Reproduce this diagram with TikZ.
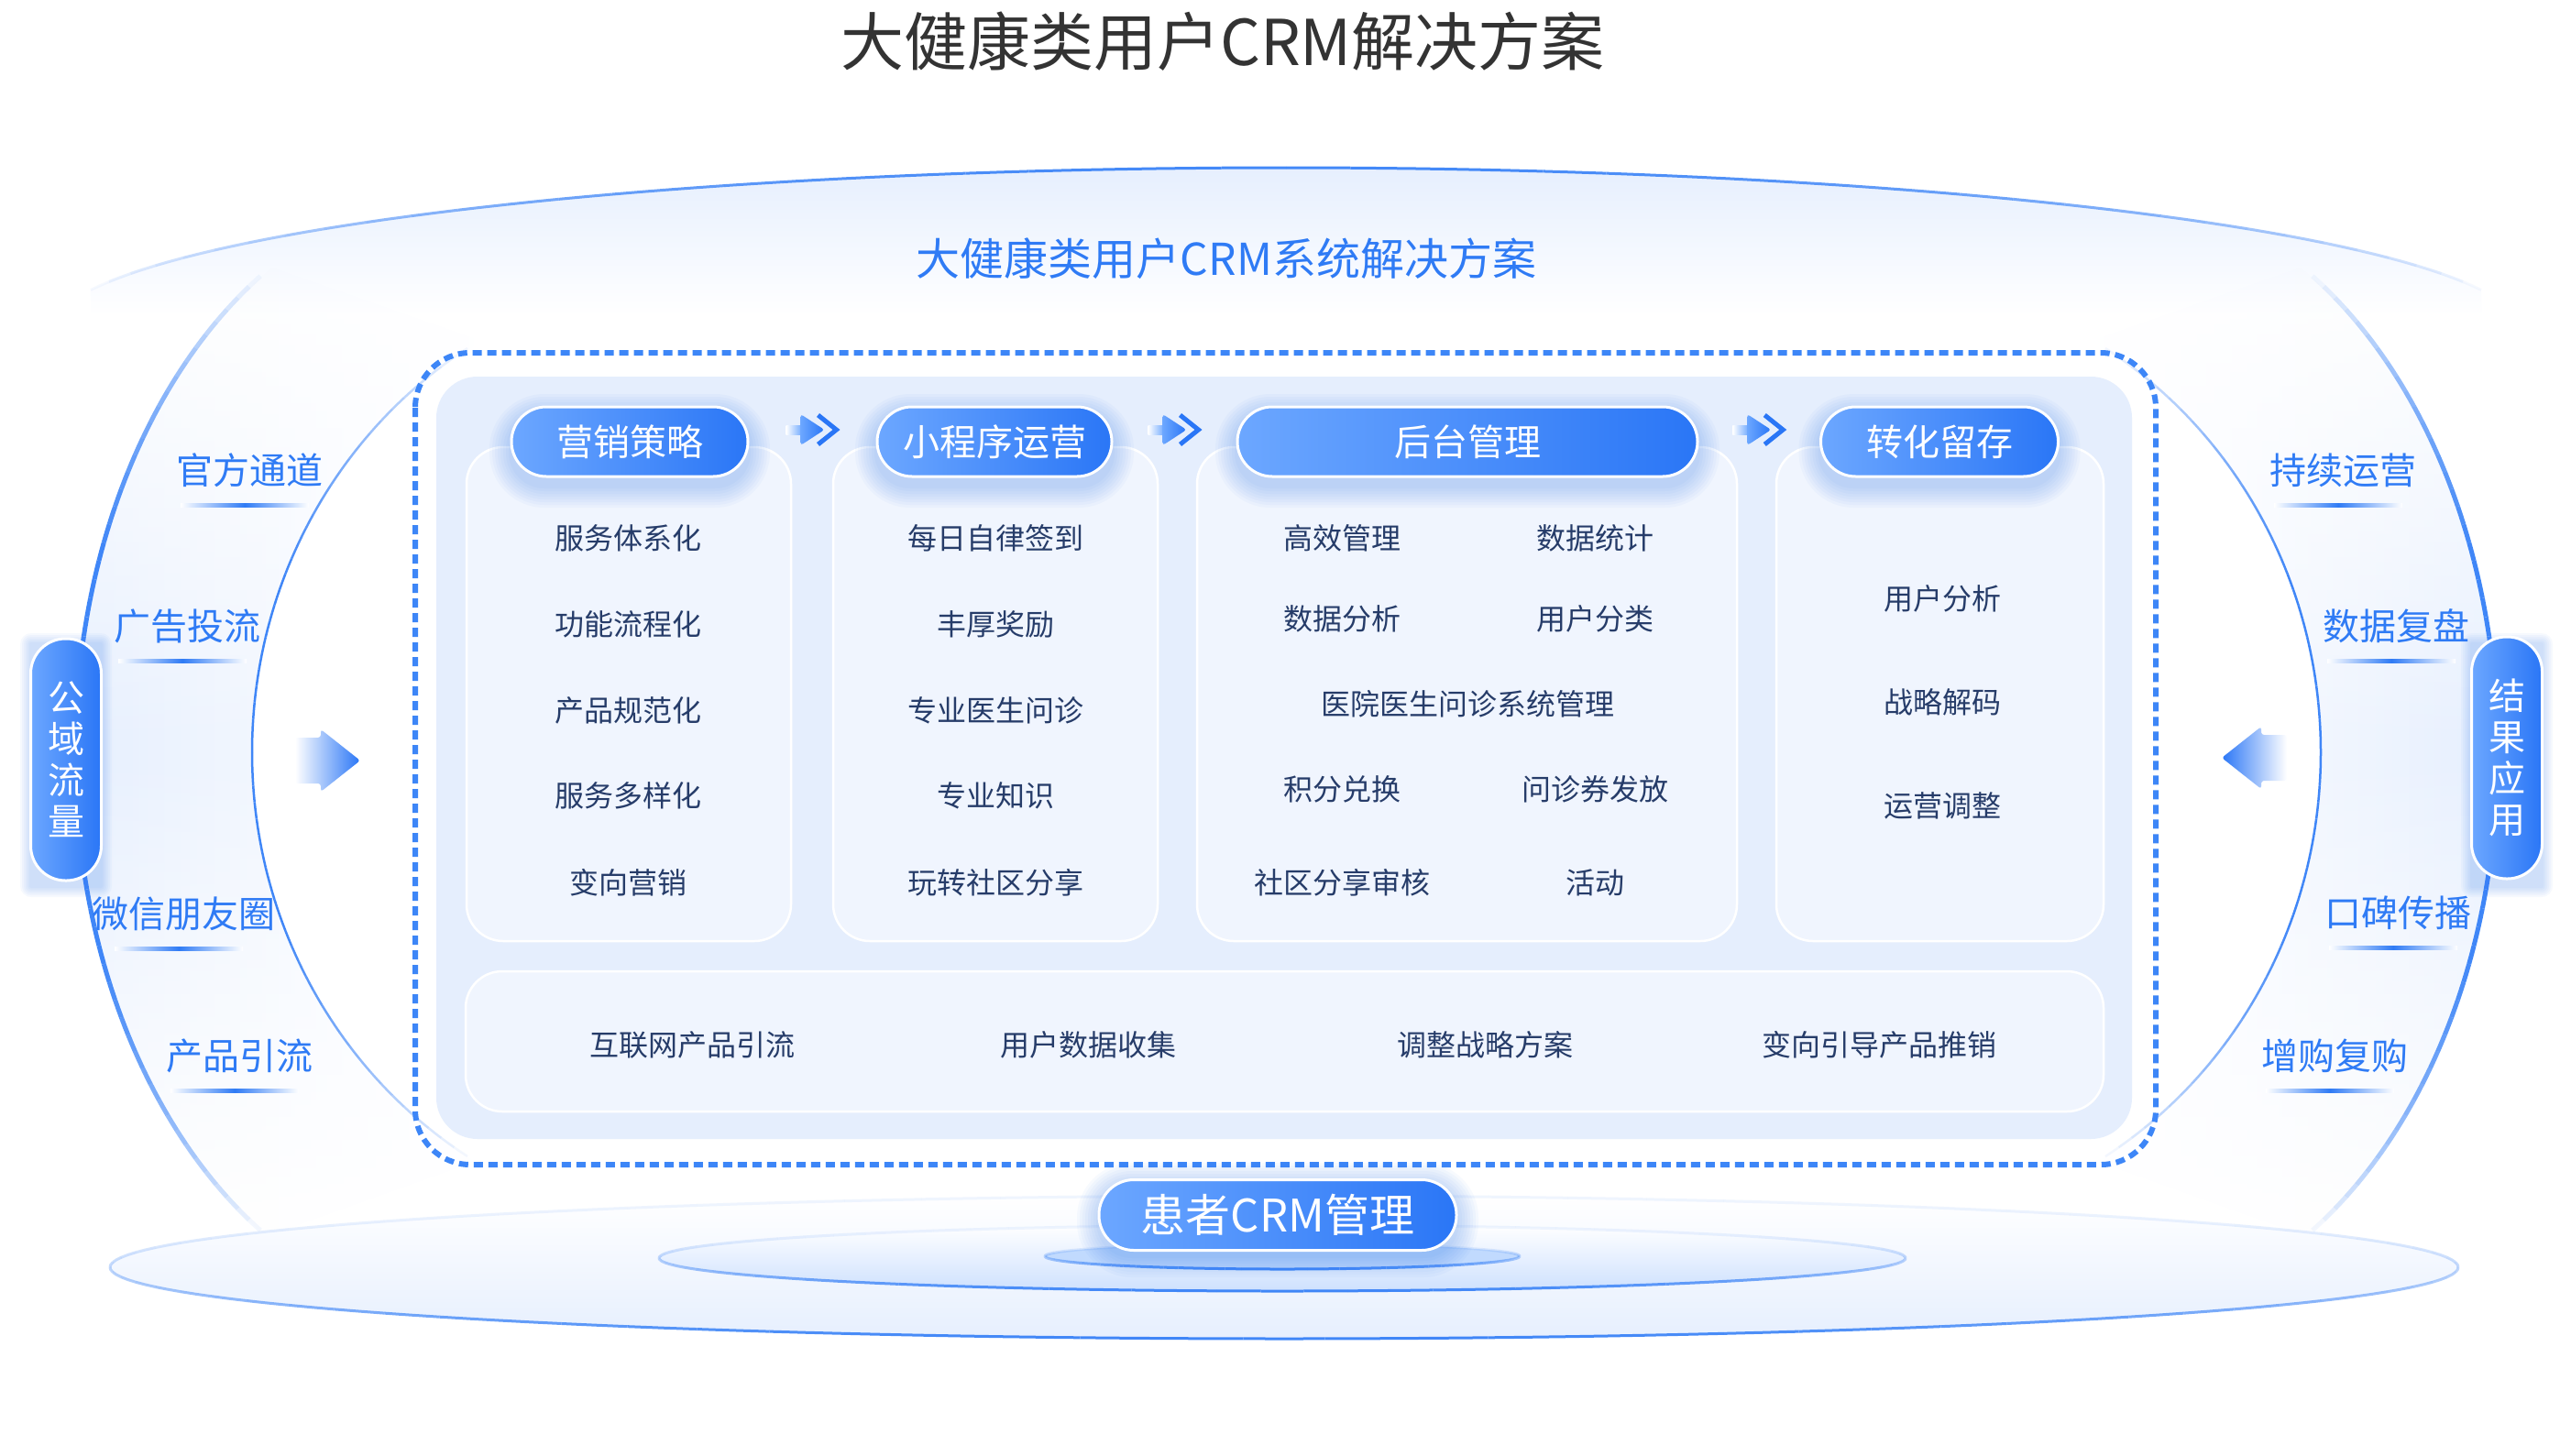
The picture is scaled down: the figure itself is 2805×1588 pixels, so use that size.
\documentclass[tikz,border=0pt]{standalone}
\usepackage{fontspec}
\setmainfont{Noto Sans CJK SC}
\usepackage{tikz}
\usetikzlibrary{positioning,calc,fadings}
\definecolor{pillA}{HTML}{6CA7FF}
\definecolor{pillB}{HTML}{2A76F6}
\definecolor{dashblue}{HTML}{3D86F7}
\definecolor{panelbg}{HTML}{E5EEFD}
\definecolor{cardbg}{HTML}{F0F5FE}
\definecolor{txtdark}{HTML}{263C69}
\definecolor{lblblue}{HTML}{2F7BF5}
\definecolor{titlegray}{HTML}{333333}
\definecolor{palebg}{HTML}{E6EFFE}
\definecolor{edgeblue}{HTML}{3F86F7}
\tikzfading[name=fadeends, top color=transparent!100, bottom color=transparent!100, middle color=transparent!0]
\tikzset{
  pill/.style={rounded corners=38pt, minimum height=76pt, inner sep=0pt, left color=pillA, right color=pillB, draw=white, line width=3pt, text=white, font=\fontsize{40}{48}\selectfont},
  sidepill/.style={pill, minimum width=77pt, minimum height=264pt, align=center, font=\fontsize{40}{45}\selectfont},
  card/.style={rounded corners=40pt, fill=cardbg, draw=white, line width=2.5pt, inner sep=0pt},
  cardtxt/.style={text=txtdark, font=\fontsize{32}{38}\selectfont, inner sep=0pt},
  sidelbl/.style={text=lblblue, font=\fontsize{40}{48}\selectfont, inner sep=0pt},
  glow/.style={fill=pillB, opacity=0.035}
}
\begin{document}
\begin{tikzpicture}[x = 1pt, y = -1pt]
\useasboundingbox (0,0) rectangle (2805,1588);
\fill[white] (0,0) rectangle (2805,1588);
% outer frame
\shade[top color=palebg, bottom color=white] plot[domain=165:15, samples=60] ({1403+1350*cos(\x)},{363-180*sin(\x)}) -- (2707,345) -- (99,345) -- cycle;
\foreach \t in {15,18,...,162} {
  \pgfmathsetmacro\op{min(1,max(0,(sin(\t+1.5)-0.25)*1.3))}
  \draw[edgeblue, line width=3pt, draw opacity=\op] plot[domain=\t:\t+3, samples=3] ({1403+1350*cos(\x)},{363-180*sin(\x)});
}
\foreach \s/\lc/\rc in {1/palebg/white, -1/white/palebg} {
  \shade[left color=\lc, right color=\rc, path fading=fadeends]
    plot[domain=120:239, samples=60] ({1403.5+(\s)*(-891.5+430*cos(\x))},{822-614*sin(\x)})
    -- plot[domain=239:120, samples=60] ({1403.5+(\s)*(-628.5+500*cos(\x))},{821-520*sin(\x)}) -- cycle;
  \foreach \t in {120,122,...,237} {
    \pgfmathsetmacro\op{min(1,max(0,(-cos(\t+1)-0.52)*2.4))}
    \draw[edgeblue, line width=5pt, draw opacity=\op] plot[domain=\t:\t+2, samples=3] ({1403.5+(\s)*(-891.5+430*cos(\x))},{822-614*sin(\x)});
    \draw[edgeblue, line width=2.5pt, draw opacity=\op] plot[domain=\t:\t+2, samples=3] ({1403.5+(\s)*(-628.5+500*cos(\x))},{821-520*sin(\x)});
  }
}
\foreach \nm/\tx/\px/\py in {gftd/官方通道/272/513, ggtl/广告投流/204/683, wxpyq/微信朋友圈/200/997, cpyl/产品引流/261/1152, cxyy/持续运营/2556/513, sjfp/数据复盘/2614/683, kbcb/口碑传播/2616/996, zgfg/增购复购/2547/1152} {
  \node[sidelbl] (\nm) at (\px,\py) {\tx};
  \shade[left color=white, right color=white, middle color=lblblue] ($(\nm.center)+(-75,36)$) rectangle ($(\nm.center)+(65,40)$);
}
\shade[left color=white, right color=pillB, rounded corners=3pt] (322,805) -- (350,805) -- (350,796) -- (393,830) -- (350,864) -- (350,855) -- (322,855) -- cycle;
\shade[left color=pillB, right color=white, rounded corners=3pt] (2495,802) -- (2467,802) -- (2467,793) -- (2424,827) -- (2467,861) -- (2467,852) -- (2495,852) -- cycle;
\foreach \cx in {72,2735}
  \foreach \g [evaluate=\g as \rr using 36+\g] in {2,4,...,12}
    \fill[glow, opacity=0.04, rounded corners=\rr pt] (\cx-38-\g,697-\g+6) rectangle (\cx+38+\g,961+\g+6);
\node[sidepill] (gyll) at (72,829) {公\\域\\流\\量};
\node[sidepill] (jgyy) at (2735,827) {结\\果\\应\\用};
% patient base
\shade[top color=white, bottom color=palebg] (1401,1383) ellipse [x radius=1281pt, y radius=78pt];
\shade[top color=white, bottom color=palebg!80!pillA] (1399,1373) ellipse [x radius=680pt, y radius=36pt];
\fill[palebg!70!pillA] (1399,1371) ellipse [x radius=259pt, y radius=14pt];
\foreach \cx/\rx/\ry/\cy in {1401/1281/78/1383, 1399/680/36/1373, 1399/259/14/1371} {
  \foreach \t in {0,4,...,356} {
    \pgfmathsetmacro\op{0.08+0.92*pow((1+sin(\t+2))/2,2)}
    \draw[edgeblue, line width=3pt, draw opacity=\op] plot[domain=\t:\t+4, samples=3] ({\cx+\rx*cos(\x)},{\cy+\ry*sin(\x)});
  }
}
% main panel
\draw[dashblue, line width=6pt, dash pattern=on 10pt off 6pt, rounded corners=60pt] (453,385) rectangle (2352,1271);
\fill[panelbg, rounded corners=45pt] (476,411) rectangle (2326,1243);
\node[card, minimum width=354pt, minimum height=539pt] (card1) at (686,757.5) {};
\node[card, minimum width=354pt, minimum height=539pt] (card2) at (1086,757.5) {};
\node[card, minimum width=589pt, minimum height=539pt] (card3) at (1600.5,757.5) {};
\node[card, minimum width=357pt, minimum height=539pt] (card4) at (2116.5,757.5) {};
\node[card, minimum width=1787pt, minimum height=153pt] (card5) at (1401.5,1136.5) {};
\foreach \nm/\tx/\cx/\w in {yxcl/营销策略/687/258, xcxyy/小程序运营/1085/256, htgl/后台管理/1601/502, zhlc/转化留存/2116/259} {
  \foreach \g [evaluate=\g as \rr using 36+\g] in {3,6,...,24}
    \fill[glow, rounded corners=\rr pt] (\cx-\w/2-\g,444-\g+10) rectangle (\cx+\w/2+\g,520+\g+10);
  \node[pill, minimum width=\w pt] (\nm) at (\cx,482) {\tx};
}
\foreach \pa/\pb [count=\k] in {yxcl/xcxyy, xcxyy/htgl, htgl/zhlc} {
  \coordinate (fa\k) at ($(\pa.east)!0.5!(\pb.west)+(0,-13)$);
  \begin{scope}[shift={(fa\k)}]
    \shade[left color=white, right color=pillA] (-29,-5) rectangle (-11,5);
    \shade[left color=pillA, right color=pillB, rounded corners=3pt] (-13,-17) -- (13,0) -- (-13,17) -- cycle;
    \draw[pillB, line width=5pt] (6,-16) -- (26,0) -- (6,16);
  \end{scope}
}
\foreach \tx/\py [count=\i] in {服务体系化/587, 功能流程化/681, 产品规范化/775, 服务多样化/868, 变向营销/963}
  \node[cardtxt] (ya\i) at (685,\py) {\tx};
\foreach \tx/\py [count=\i] in {每日自律签到/587, 丰厚奖励/681, 专业医生问诊/775, 专业知识/868, 玩转社区分享/963}
  \node[cardtxt] (xa\i) at (1086,\py) {\tx};
\foreach \tx/\px/\py [count=\i] in {高效管理/1464/587, 数据统计/1740/587, 数据分析/1464/675, 用户分类/1740/675, 医院医生问诊系统管理/1601/768, 积分兑换/1464/861, 问诊券发放/1740/861, 社区分享审核/1464/963, 活动/1740/963}
  \node[cardtxt] (ha\i) at (\px,\py) {\tx};
\foreach \tx/\py [count=\i] in {用户分析/653, 战略解码/766, 运营调整/879}
  \node[cardtxt] (za\i) at (2119,\py) {\tx};
\foreach \tx/\px [count=\i] in {互联网产品引流/755, 用户数据收集/1187, 调整战略方案/1620, 变向引导产品推销/2050}
  \node[cardtxt] (da\i) at (\px,1140) {\tx};
\foreach \g [evaluate=\g as \rr using 36+\g] in {3,6,...,24}
  \fill[glow, rounded corners=\rr pt] (1199-\g,1287-\g+6) rectangle (1589+\g,1364+\g+6);
\node[pill, minimum width=390pt, minimum height=77pt, font=\fontsize{49}{58}\selectfont] (hzcrm) at (1394,1326) {患者CRM管理};
\node[text=titlegray, font=\fontsize{69}{80}\selectfont, inner sep=0pt] (title) at (1334,45) {大健康类用户CRM解决方案};
\node[text=lblblue, font=\fontsize{48}{56}\selectfont, inner sep=0pt] (subtitle) at (1338,282) {大健康类用户CRM系统解决方案};
\end{tikzpicture}
\end{document}
